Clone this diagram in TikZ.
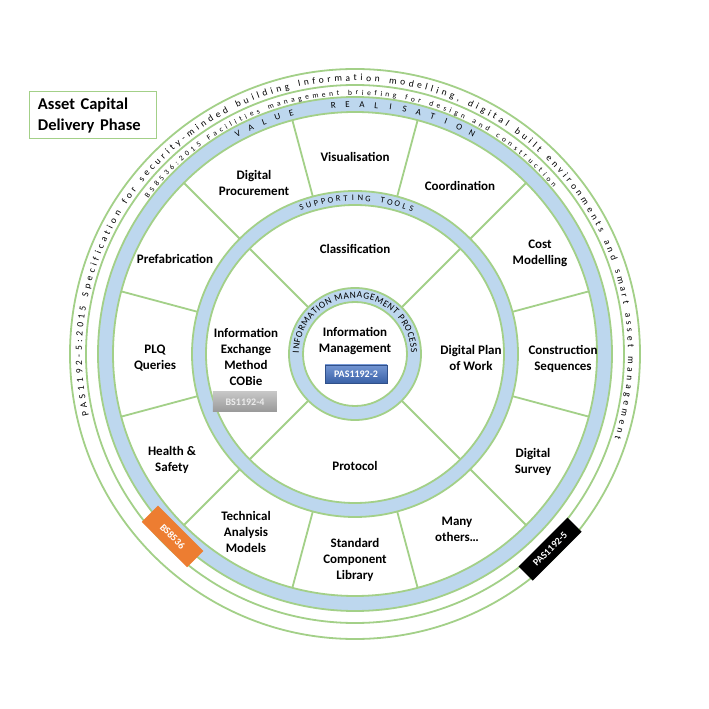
\documentclass[tikz,border=0pt]{standalone}
\usepackage{fontspec}
\setmainfont{Carlito}
\usetikzlibrary{positioning,decorations.text}
\definecolor{ringgreen}{RGB}{163,208,136}
\definecolor{bandblue}{RGB}{189,215,238}
\definecolor{pasblue}{RGB}{68,114,196}
\definecolor{bsorange}{RGB}{237,125,49}

\begin{document}
\begin{tikzpicture}[x=1pt,y=1pt]
  \tikzstyle{ring} = [draw=ringgreen, line width=1.8pt]
  \tikzstyle{lbl} = [font=\bfseries\fontsize{13}{16}\selectfont, align=center]
  \tikzstyle{badge} = [font=\bfseries\fontsize{10}{10}\selectfont, text=white,
    minimum width=63pt, minimum height=19pt, inner sep=0pt]
  \tikzstyle{arcch} = [font=\fontsize{9}{9}\selectfont, inner sep=0pt]
  \useasboundingbox (-355,-355) rectangle (354,354);
  \fill[white] (-355,-355) rectangle (354,354);
  \coordinate (o) at (0,0);
  \draw[ring] (o) circle[radius=285pt];
  \draw[ring] (o) circle[radius=269pt];
  \draw[ring, fill=bandblue] (o) circle[radius=257pt];
  \draw[ring, fill=white] (o) circle[radius=242pt];
  \foreach \a in {15,45,...,345} \draw[ring] (\a:163) -- (\a:242);
  \draw[ring, fill=bandblue] (o) circle[radius=163pt];
  \draw[ring, fill=white] (o) circle[radius=149pt];
  \foreach \a in {45,135,225,315} \draw[ring] (\a:66) -- (\a:149);
  \draw[ring, fill=bandblue] (o) circle[radius=66pt];
  \draw[ring, fill=white] (o) circle[radius=52pt];
  \path[decorate, decoration={text along path, text align={fit to path},
    text={|\fontsize{9.5}{9.5}\selectfont|PAS1192-5:2015 Specification for security-minded building Information modelling, digital built environments and smart asset management}}]
    (193:273) arc[start angle=193, end angle=-18, radius=273pt];
  \path[decorate, decoration={text along path, text align={fit to path},
    text={|\fontsize{7.5}{7.5}\selectfont|BS8536:2015 Facilities management briefing for design and construction}}]
    (143:259) arc[start angle=143, end angle=40, radius=259pt];
  \path[decorate, decoration={text along path, text align={fit to path},
    text={|\fontsize{9.5}{9.5}\selectfont|INFORMATION MANAGEMENT PROCESS}}]
    (179:56) arc[start angle=179, end angle=1, radius=56pt];
  \foreach \ch [count=\i from 0] in {V,A,L,U,E}
    \node[arcch, rotate={28-3.3*\i}] (val\i) at ({118-3.3*\i}:249.5) {\ch};
  \foreach \ch [count=\i from 0] in {R,E,A,L,I,S,A,T,I,O,N}
    \node[arcch, rotate={5-3.3*\i}] (rea\i) at ({95-3.3*\i}:249.5) {\ch};
  \foreach \ch [count=\i from 0] in {S,U,P,P,O,R,T,I,N,G}
    \node[arcch, font=\fontsize{8.5}{8.5}\selectfont, rotate={20-2.75*\i}] (sup\i) at ({110-2.75*\i}:156) {\ch};
  \foreach \ch [count=\i from 0] in {T,O,O,L,S}
    \node[arcch, font=\fontsize{8.5}{8.5}\selectfont, rotate={-10.25-2.75*\i}] (too\i) at ({79.75-2.75*\i}:156) {\ch};
  \node[lbl] (visu) at (0,197) {Visualisation};
  \node[lbl] (dproc) at (-101,171) {Digital\\Procurement};
  \node[lbl] (coord) at (105,168) {Coordination};
  \node[lbl] (cost) at (185,101) {Cost\\Modelling};
  \node[lbl] (prefab) at (-180,95) {Prefabrication};
  \node[lbl] (plq) at (-200,-4) {PLQ\\Queries};
  \node[lbl] (cseq) at (208,-5) {Construction\\Sequences};
  \node[lbl] (health) at (-183,-106) {Health \&\\Safety};
  \node[lbl] (dsurv) at (178,-108) {Digital\\Survey};
  \node[lbl] (tech) at (-109,-178) {Technical\\Analysis\\Models};
  \node[lbl] (std) at (0,-206) {Standard\\Component\\Library};
  \node[lbl] (many) at (102,-175) {Many\\others…};
  \node[lbl] (classif) at (0,105) {Classification};
  \node[lbl] (iex) at (-109,-3) {Information\\Exchange\\Method\\COBie};
  \node[lbl] (dpw) at (116,-4) {Digital Plan\\of Work};
  \node[lbl] (proto) at (0,-112) {Protocol};
  \node[lbl] (iman) at (0,12.5) {Information\\Management};
  \node[badge, minimum width=62pt, minimum height=18pt, top color=pasblue!75!white,
    bottom color=pasblue!85!black, draw=pasblue!70!black] (pas2) at (1,-20) {PAS1192-2};
  \node[badge, minimum width=64pt, minimum height=20pt, top color=gray!45,
    bottom color=gray!80, text=gray!15] (bs4) at (-110,-48) {BS1192-4};
  \node[badge, minimum width=64pt, minimum height=23pt, fill=bsorange, rotate=-45] (bs8536) at (225:258) {BS8536};
  \node[badge, minimum width=69pt, minimum height=20pt, fill=black, rotate=45] (pas5) at (-45:276) {PAS1192-5};
  \node[draw=ringgreen, line width=1pt, fill=white, minimum width=127pt, minimum height=47pt,
    text width=111pt, inner xsep=8pt, align=left, font=\bfseries\fontsize{16.5}{21}\selectfont]
    (phase) at (-261.5,238.5) {Asset Capital\\Delivery Phase};
\end{tikzpicture}
\end{document}
